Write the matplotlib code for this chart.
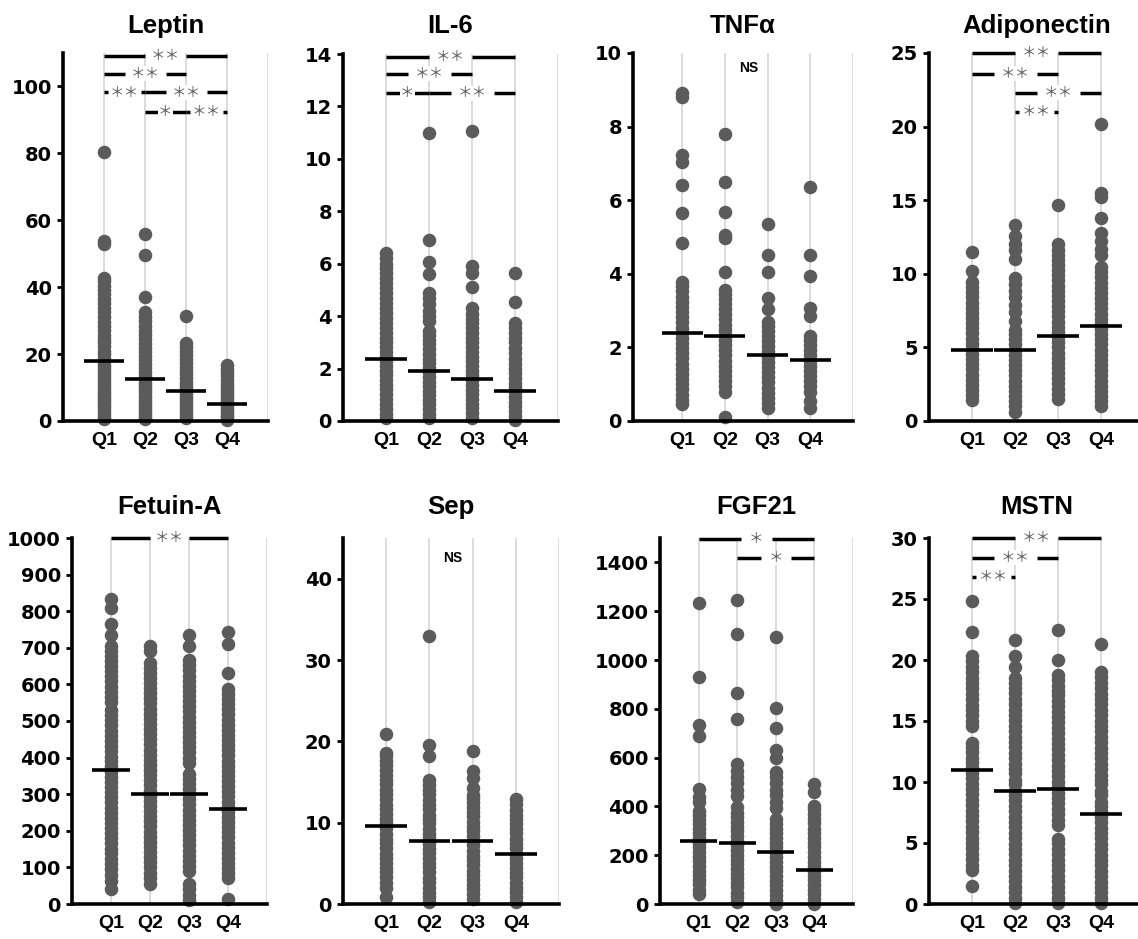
import matplotlib
matplotlib.use("Agg")
import matplotlib.pyplot as plt

W, H = 1138, 939
groups = ["Q1", "Q2", "Q3", "Q4"]

# ---------------- data ----------------
leptin_q1 = [0.6, 1.2, 2.1, 3.0, 3.8, 4.5, 5.3, 6.2, 7.0, 7.9, 8.8, 9.6, 10.5, 11.3, 12.4, 13.2, 14.1, 15.0,
             15.9, 16.8, 17.8, 18.7, 19.9, 21.0, 22.3, 23.5, 24.6, 25.8, 27.1, 28.4, 29.6, 31.0, 32.5, 33.9,
             35.2, 36.6, 37.9, 39.3, 40.5, 41.8, 42.6, 53.0, 53.9, 80.5]
leptin_q2 = [0.5, 1.3, 2.2, 3.1, 4.0, 4.9, 5.8, 6.7, 7.6, 8.6, 9.5, 10.4, 11.5, 12.5, 13.6, 14.7, 15.8, 17.0,
             18.2, 19.4, 20.6, 21.9, 23.1, 24.4, 25.6, 27.0, 28.5, 29.8, 31.2, 32.6, 37.0, 49.6, 56.0]
leptin_q3 = [1.0, 1.8, 2.7, 3.6, 4.5, 5.4, 6.3, 7.2, 8.1, 9.0, 9.9, 10.9, 11.8, 12.8, 13.9, 15.0, 16.1, 17.2,
             18.4, 19.6, 20.8, 22.0, 23.3, 31.5]
leptin_q4 = [0.4, 1.1, 1.9, 2.7, 3.5, 4.3, 5.0, 5.8, 6.6, 7.5, 8.4, 9.3, 10.2, 11.2, 12.3, 13.5, 14.6, 15.5, 16.6]
leptin_med = [17.8, 12.5, 9.0, 5.0]

il6_q1 = [0.12, 0.28, 0.47, 0.66, 0.85, 1.02, 1.21, 1.38, 1.55, 1.74, 1.92, 2.08, 2.27, 2.45, 2.63, 2.81, 3.0,
          3.18, 3.37, 3.55, 3.74, 3.93, 4.12, 4.31, 4.5, 4.7, 4.88, 5.07, 5.26, 5.45, 5.63, 5.82, 6.0, 6.22, 6.4]
il6_q2 = [0.1, 0.27, 0.45, 0.63, 0.8, 0.98, 1.15, 1.33, 1.5, 1.68, 1.86, 2.03, 2.2, 2.38, 2.56, 2.74, 2.92, 3.1,
          3.28, 3.45, 3.8, 4.0, 4.2, 4.45, 4.7, 4.9, 5.6, 6.05, 6.9, 11.0]
il6_q3 = [0.12, 0.3, 0.48, 0.66, 0.84, 1.02, 1.2, 1.38, 1.56, 1.74, 1.92, 2.1, 2.28, 2.46, 2.64, 2.82, 3.0, 3.18,
          3.36, 3.54, 3.72, 3.9, 4.1, 4.3, 5.1, 5.65, 5.9, 11.05]
il6_q4 = [0.02, 0.2, 0.38, 0.56, 0.74, 0.92, 1.1, 1.28, 1.46, 1.64, 1.82, 2.0, 2.18, 2.36, 2.6, 2.8, 3.0, 3.15,
          3.35, 3.55, 3.75, 4.55, 5.65]
il6_med = [2.35, 1.9, 1.6, 1.15]

tnf_q1 = [0.45, 0.58, 0.72, 0.86, 1.0, 1.14, 1.28, 1.42, 1.56, 1.7, 1.84, 1.98, 2.12, 2.26, 2.4, 2.54, 2.68,
          2.82, 2.96, 3.1, 3.24, 3.38, 3.52, 3.66, 3.78, 4.85, 5.65, 6.4, 7.05, 7.22, 8.8, 8.92]
tnf_q2 = [0.1, 0.8, 0.94, 1.08, 1.22, 1.36, 1.5, 1.64, 1.78, 1.92, 2.06, 2.2, 2.34, 2.48, 2.62, 2.76, 2.9, 3.04,
          3.18, 3.32, 3.45, 3.55, 4.05, 4.97, 5.05, 5.68, 6.5, 7.8]
tnf_q3 = [0.35, 0.49, 0.63, 0.77, 0.91, 1.05, 1.19, 1.33, 1.47, 1.61, 1.75, 1.89, 2.03, 2.17, 2.31, 2.45, 2.59,
          2.7, 3.05, 3.35, 4.05, 4.5, 5.35]
tnf_q4 = [0.35, 0.55, 0.8, 0.94, 1.08, 1.22, 1.36, 1.5, 1.64, 1.78, 1.92, 2.06, 2.2, 2.3, 2.85, 3.08, 3.95, 4.5, 6.35]
tnf_med = [2.38, 2.32, 1.8, 1.65]

adipo_q1 = [1.4, 1.75, 2.1, 2.45, 2.8, 3.15, 3.5, 3.85, 4.2, 4.55, 4.9, 5.25, 5.6, 5.95, 6.3, 6.65, 7.0, 7.35,
            7.7, 8.05, 8.4, 8.75, 9.1, 9.45, 10.2, 11.5]
adipo_q2 = [0.6, 1.0, 1.35, 1.7, 2.05, 2.4, 2.75, 3.1, 3.45, 3.8, 4.15, 4.5, 4.85, 5.2, 5.55, 5.9, 6.2, 6.8, 7.4,
            7.9, 8.4, 8.8, 9.3, 9.7, 11.0, 11.6, 12.0, 12.6, 13.3]
adipo_q3 = [1.5, 1.85, 2.2, 2.55, 2.9, 3.25, 3.6, 3.95, 4.3, 4.65, 5.0, 5.35, 5.7, 6.05, 6.4, 6.75, 7.1, 7.45,
            7.8, 8.15, 8.5, 8.85, 9.2, 9.55, 9.9, 10.25, 10.6, 10.95, 11.3, 11.65, 12.05, 14.7]
adipo_q4 = [1.0, 1.35, 1.7, 2.05, 2.4, 2.75, 3.1, 3.45, 3.8, 4.15, 4.5, 4.85, 5.2, 5.55, 5.9, 6.25, 6.6, 6.95,
            7.3, 7.65, 8.0, 8.35, 8.7, 9.05, 9.4, 9.75, 10.1, 10.45, 11.3, 11.7, 12.2, 12.8, 13.8, 15.2, 15.5, 20.2]
adipo_med = [4.8, 4.8, 5.8, 6.45]

fetuin_q1 = [40, 62, 78, 95, 108, 124, 138, 151, 166, 180, 193, 208, 221, 236, 250, 263, 278, 292, 305, 320,
             334, 347, 361, 376, 390, 403, 418, 432, 446, 460, 474, 488, 502, 516, 530, 552, 566, 580, 594, 608,
             622, 636, 650, 664, 678, 692, 706, 735, 765, 810, 832]
fetuin_q2 = [55, 72, 86, 100, 114, 128, 142, 156, 170, 184, 198, 212, 226, 240, 254, 268, 282, 296, 310, 324,
             338, 352, 366, 380, 394, 408, 422, 436, 450, 464, 478, 492, 506, 520, 534, 548, 562, 576, 590, 604,
             618, 632, 646, 658, 690, 706]
fetuin_q3 = [10, 25, 40, 55, 90, 104, 118, 132, 146, 160, 174, 188, 202, 216, 230, 244, 258, 272, 286, 300, 314,
             328, 342, 356, 384, 400, 414, 428, 442, 456, 470, 484, 498, 512, 526, 540, 554, 568, 582, 596, 610,
             624, 638, 652, 666, 705, 736]
fetuin_q4 = [15, 70, 84, 98, 112, 126, 140, 154, 168, 182, 196, 210, 224, 238, 252, 266, 280, 294, 308, 322,
             336, 350, 364, 378, 392, 406, 420, 434, 448, 462, 476, 490, 504, 518, 532, 546, 560, 574, 588, 630,
             710, 742]
fetuin_med = [365, 300, 300, 260]

sep_q1 = [0.9, 2.0, 2.6, 3.3, 3.9, 4.4, 5.1, 5.7, 6.2, 6.9, 7.5, 8.0, 8.6, 9.3, 9.9, 10.4, 11.1, 11.7, 12.2,
          12.9, 13.5, 14.0, 14.7, 15.3, 15.8, 16.5, 17.1, 17.6, 18.2, 18.6, 20.9]
sep_q2 = [0.3, 0.8, 1.4, 2.0, 2.7, 3.2, 3.9, 4.5, 5.0, 5.7, 6.3, 6.8, 7.4, 8.1, 8.6, 9.2, 9.9, 10.4, 11.0, 11.7,
          12.2, 12.8, 13.5, 14.0, 14.6, 15.2, 18.2, 19.6, 33.0]
sep_q3 = [0.6, 1.2, 1.8, 2.3, 3.0, 3.6, 4.1, 4.8, 5.4, 5.9, 6.5, 7.2, 7.7, 8.3, 9.0, 9.5, 10.1, 10.8, 11.3, 11.9,
          12.6, 13.0, 13.4, 14.3, 15.5, 16.3, 18.8]
sep_q4 = [0.3, 0.9, 1.5, 2.0, 2.6, 3.3, 3.8, 4.4, 5.1, 5.6, 6.2, 6.9, 7.4, 8.0, 8.7, 9.2, 9.8, 10.5, 11.0, 11.6,
          12.3, 12.9]
sep_med = [9.6, 7.7, 7.7, 6.1]

fgf_q1 = [40, 58, 80, 97, 118, 137, 155, 176, 194, 213, 232, 250, 271, 289, 308, 327, 345, 366, 380, 420, 440,
          472, 690, 735, 930, 1235]
fgf_q2 = [10, 28, 47, 68, 85, 106, 124, 143, 164, 182, 201, 222, 240, 259, 280, 298, 317, 338, 356, 375, 396,
          442, 468, 496, 522, 545, 575, 760, 865, 1105, 1245]
fgf_q3 = [0, 18, 37, 58, 76, 95, 116, 134, 153, 174, 192, 211, 232, 250, 269, 290, 308, 327, 348, 392, 418, 445,
          468, 497, 520, 540, 600, 632, 720, 805, 1095]
fgf_q4 = [0, 19, 40, 58, 77, 98, 116, 135, 156, 174, 193, 214, 232, 251, 272, 290, 309, 330, 348, 367, 388, 400,
          458, 490]
fgf_med = [258, 248, 212, 140]

mstn_q1 = [1.5, 2.8, 3.2, 3.7, 4.1, 4.6, 5.0, 5.4, 5.9, 6.3, 6.8, 7.2, 7.6, 8.1, 8.5, 9.0, 9.4, 9.8, 10.3, 10.7,
           11.2, 11.6, 12.0, 12.5, 12.9, 13.2, 14.6, 15.0, 15.5, 15.9, 16.3, 16.8, 17.2, 17.7, 18.1, 18.5, 19.0,
           19.4, 19.9, 20.3, 22.3, 24.8]
mstn_q2 = [0.1, 0.5, 1.0, 1.4, 1.9, 2.3, 2.7, 3.2, 3.6, 4.1, 4.5, 4.9, 5.4, 5.8, 6.3, 6.7, 7.1, 7.6, 8.0, 8.5,
           8.9, 9.3, 9.8, 10.2, 10.7, 11.1, 11.5, 12.0, 12.4, 12.9, 13.3, 13.7, 14.2, 14.6, 15.1, 15.5, 15.9, 16.4,
           16.8, 17.3, 17.7, 18.1, 18.5, 19.4, 20.3, 21.6]
mstn_q3 = [0.1, 0.5, 1.0, 1.4, 1.9, 2.3, 2.8, 3.2, 3.6, 4.1, 4.5, 5.0, 5.3, 6.5, 6.9, 7.4, 7.8, 8.3, 8.7, 9.1,
           9.6, 10.0, 10.5, 10.9, 11.3, 11.8, 12.2, 12.7, 13.1, 13.5, 14.0, 14.4, 14.9, 15.3, 15.7, 16.2, 16.6,
           17.1, 17.5, 17.9, 18.4, 18.8, 20.0, 22.5]
mstn_q4 = [0.1, 0.5, 1.0, 1.4, 1.8, 2.3, 2.7, 3.2, 3.6, 4.0, 4.5, 4.9, 5.4, 5.8, 6.2, 6.7, 7.1, 7.6, 8.0, 8.4,
           8.9, 9.3, 9.8, 10.2, 10.6, 11.1, 11.5, 12.0, 12.4, 12.8, 13.3, 13.7, 14.2, 14.6, 15.0, 15.5, 15.9, 16.4,
           16.8, 17.2, 17.7, 18.1, 18.6, 19.0, 21.3]
mstn_med = [11.0, 9.25, 9.4, 7.4]

titles = ["Leptin", "IL-6", "TNFα", "Adiponectin", "Fetuin-A", "Sep", "FGF21", "MSTN"]
y_max = [110, 14, 10, 25, 1000, 45, 1500, 30]
y_ticks = [list(range(0, 101, 20)), list(range(0, 15, 2)), list(range(0, 11, 2)), list(range(0, 26, 5)),
           list(range(0, 1001, 100)), list(range(0, 41, 10)), list(range(0, 1401, 200)), list(range(0, 31, 5))]

# significance brackets: (from group, to group, height, label); "NS" at (x, y)
leptin_sig = [(1, 4, 109, "＊＊"), (1, 3, 103.8, "＊＊"), (1, 2, 98.2, "＊＊"), (2, 4, 98.2, "＊＊"),
              (2, 3, 92.5, "＊"), (3, 4, 92.5, "＊＊")]
il6_sig = [(1, 4, 13.9, "＊＊"), (1, 3, 13.25, "＊＊"), (1, 2, 12.5, "＊"), (2, 4, 12.5, "＊＊")]
adipo_sig = [(1, 4, 25.0, "＊＊"), (1, 3, 23.6, "＊＊"), (2, 4, 22.3, "＊＊"), (2, 3, 21.0, "＊＊")]
fetuin_sig = [(1, 4, 1000, "＊＊")]
fgf_sig = [(1, 4, 1495, "＊"), (2, 4, 1418, "＊")]
mstn_sig = [(1, 4, 30.0, "＊＊"), (1, 3, 28.4, "＊＊"), (1, 2, 26.8, "＊＊")]
tnf_ns = (2.55, 9.6)
sep_ns = (2.55, 42.6)

panel_data = [
    [leptin_q1, leptin_q2, leptin_q3, leptin_q4],
    [il6_q1, il6_q2, il6_q3, il6_q4],
    [tnf_q1, tnf_q2, tnf_q3, tnf_q4],
    [adipo_q1, adipo_q2, adipo_q3, adipo_q4],
    [fetuin_q1, fetuin_q2, fetuin_q3, fetuin_q4],
    [sep_q1, sep_q2, sep_q3, sep_q4],
    [fgf_q1, fgf_q2, fgf_q3, fgf_q4],
    [mstn_q1, mstn_q2, mstn_q3, mstn_q4],
]
panel_med = [leptin_med, il6_med, tnf_med, adipo_med, fetuin_med, sep_med, fgf_med, mstn_med]
panel_sig = [leptin_sig, il6_sig, [], adipo_sig, fetuin_sig, [], fgf_sig, mstn_sig]
panel_ns = [None, None, tnf_ns, None, None, sep_ns, None, None]

# ---------------- layout (pixels) ----------------
# (left, right, top, bottom, xmin)
boxes = [
    (63, 268, 53, 421, 0.0), (343, 558, 54, 421, 0.0), (633, 853, 53, 421, -0.15), (929, 1144, 53, 421, 0.0),
    (72, 267, 538, 904, 0.0), (343, 559, 538, 904, 0.0), (660, 853, 538, 904, 0.0), (929, 1144, 538, 904, 0.0),
]
title_y = [33, 33, 33, 33, 514, 514, 514, 514]

fig = plt.figure(figsize=(W / 100, H / 100), dpi=100)
DOT = "#5b5b5b"
STAR = ["Noto Sans CJK JP", "DejaVu Sans"]

for i in range(8):
    l, r, t, b, xmin = boxes[i]
    ax = fig.add_axes([l / W, 1 - b / H, (r - l) / W, (b - t) / H])
    ax.set_xlim(xmin, 5)
    ax.set_ylim(0, y_max[i])
    for s in ("top", "right"):
        ax.spines[s].set_visible(False)
    for s in ("left", "bottom"):
        ax.spines[s].set_linewidth(2.6)
        ax.spines[s].set_color("black")
        ax.spines[s].set_zorder(6)
    ax.set_xticks([1, 2, 3, 4, 5])
    ax.set_xticklabels(groups + [""], fontsize=14, fontweight="bold", family="Liberation Sans")
    ax.tick_params(axis="x", length=0, pad=8)
    ax.grid(axis="x", color="#d9d9d9", linewidth=1.3, zorder=0)
    ax.set_axisbelow(True)
    ax.set_yticks(y_ticks[i])
    ax.set_yticklabels([str(v) for v in y_ticks[i]], fontsize=14, fontweight="bold", family="DejaVu Sans")
    ax.tick_params(axis="y", length=4, width=2, pad=4, direction="out")

    for g, vals in enumerate(panel_data[i]):
        ax.scatter([g + 1] * len(vals), vals, s=95, color=DOT, linewidths=0, zorder=3, clip_on=False)
        ax.hlines(panel_med[i][g], g + 1 - 0.48, g + 1 + 0.48, color="black", linewidth=2.6, zorder=4)

    for (a, c, y, lab) in panel_sig[i]:
        span = c - a
        if lab == "＊＊":
            gap = 1.0 if span >= 2 else 0.8
        else:
            gap = 0.78 if span >= 2 else 0.28
        mid = (a + c) / 2
        for x0, x1 in ((a, mid - gap / 2), (mid + gap / 2, c)):
            ax.plot([x0, x1], [y, y], color="black", linewidth=2.5, solid_capstyle="butt", zorder=5,
                    clip_on=False)
        ax.text(mid, y, lab, ha="center", va="center", color="#5e5e5e", fontsize=10.5, family=STAR, zorder=5,
                bbox=dict(facecolor="white", edgecolor="none", pad=0.3))

    if panel_ns[i] is not None:
        ax.text(panel_ns[i][0], panel_ns[i][1], "NS", ha="center", va="center", fontsize=10,
                fontweight="bold", family="Liberation Sans")

    cx = (l + r) / 2
    fig.text(cx / W, 1 - title_y[i] / H, titles[i], ha="center", va="baseline", fontsize=18.5,
             fontweight="bold", family="Liberation Sans")

fig.savefig("out.png", dpi=100, facecolor="white")
